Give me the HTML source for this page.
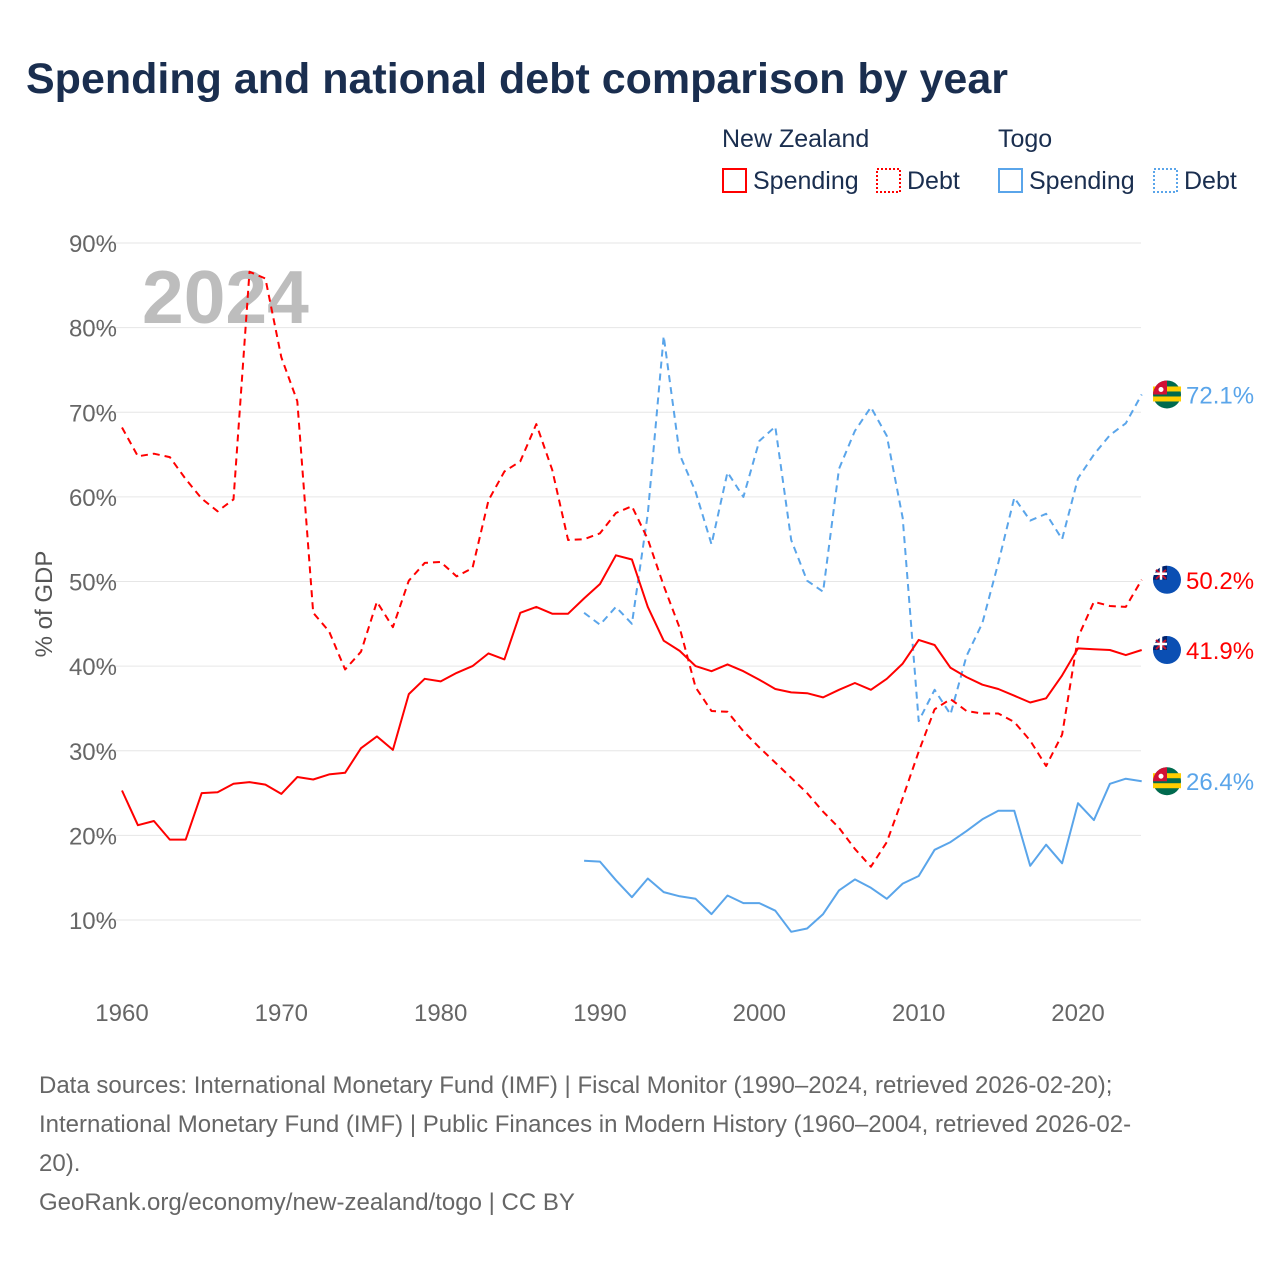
<!DOCTYPE html>
<html><head><meta charset="utf-8"><style>
body{margin:0;background:#fff;font-family:"Liberation Sans",sans-serif}
svg text{font-family:"Liberation Sans",sans-serif}
</style></head><body>
<svg id="chart" width="1280" height="1280" viewBox="0 0 1280 1280">
<text x="26" y="93" font-size="43" font-weight="bold" fill="#1a2e4f">Spending and national debt comparison by year</text>
<g font-size="25" fill="#1a2e4f">
<text x="722" y="147" fill="#1a2e4f">New Zealand</text>
<text x="998" y="147" fill="#1a2e4f">Togo</text>
<g><rect x="723" y="169" width="23" height="23" fill="none" stroke="#f00" stroke-width="2"/><text x="753" y="189" fill="#1a2e4f">Spending</text></g>
<g><rect x="877" y="169" width="23" height="23" fill="none" stroke="#f00" stroke-width="2" stroke-dasharray="2,2"/><text x="907" y="189" fill="#1a2e4f">Debt</text></g>
<g><rect x="999" y="169" width="23" height="23" fill="none" stroke="#5aa5ea" stroke-width="2"/><text x="1029" y="189" fill="#1a2e4f">Spending</text></g>
<g><rect x="1154" y="169" width="23" height="23" fill="none" stroke="#5aa5ea" stroke-width="2" stroke-dasharray="2,2"/><text x="1184" y="189" fill="#1a2e4f">Debt</text></g>
</g>
<text x="142" y="323" font-size="75" font-weight="bold" fill="#bdbdbd">2024</text>
<text transform="translate(52,604) rotate(-90)" text-anchor="middle" font-size="24" fill="#555">% of GDP</text>
<g id="grid"></g><g id="series"></g><g id="ends"></g>
<g font-size="24" fill="#666">
<text x="39" y="1093" fill="#666">Data sources: International Monetary Fund (IMF) | Fiscal Monitor (1990–2024, retrieved 2026-02-20);</text>
<text x="39" y="1132" fill="#666">International Monetary Fund (IMF) | Public Finances in Modern History (1960–2004, retrieved 2026-02-</text>
<text x="39" y="1171" fill="#666">20).</text>
<text x="39" y="1210" fill="#666">GeoRank.org/economy/new-zealand/togo | CC BY</text>
</g>
</svg>
<script>
const yTicks=[10,20,30,40,50,60,70,80,90];
const xTicks=[1960,1970,1980,1990,2000,2010,2020];
const nzYearStart=1960;
const nzSpending=[25.3,21.2,21.7,19.5,19.5,25.0,25.1,26.1,26.3,26.0,24.9,26.9,26.6,27.2,27.4,30.3,31.7,30.1,36.7,38.5,38.2,39.2,40.0,41.5,40.8,46.3,47.0,46.2,46.2,48.0,49.7,53.1,52.6,47.0,43.0,41.8,40.0,39.4,40.2,39.4,38.4,37.3,36.9,36.8,36.3,37.2,38.0,37.2,38.5,40.3,43.1,42.5,39.8,38.7,37.8,37.3,36.5,35.7,36.2,38.9,42.1,42.0,41.9,41.3,41.9];
const nzDebt=[68.2,64.8,65.1,64.7,62.1,59.8,58.3,59.7,86.6,85.8,76.5,71.3,46.3,44.1,39.6,41.7,47.6,44.6,50.1,52.2,52.3,50.6,51.6,59.6,63.0,64.2,68.6,63.2,54.9,55.0,55.7,58.1,58.9,55.0,49.5,44.5,37.5,34.7,34.6,32.3,30.4,28.6,26.8,25.0,22.8,20.9,18.4,16.3,19.2,24.4,29.9,34.9,36.1,34.7,34.4,34.4,33.4,31.2,28.2,31.9,43.4,47.6,47.1,47.0,50.2];
const togoYearStart=1989;
const togoSpending=[17.0,16.9,14.7,12.7,14.9,13.3,12.8,12.5,10.7,12.9,12.0,12.0,11.1,8.6,9.0,10.7,13.5,14.8,13.8,12.5,14.3,15.2,18.3,19.2,20.5,21.9,22.9,22.9,16.4,18.9,16.7,23.8,21.8,26.1,26.7,26.4];
const togoDebt=[46.3,44.9,47.0,45.0,58.0,79.0,65.0,60.6,54.4,62.9,60.0,66.6,68.3,54.9,50.1,48.8,63.3,67.8,70.6,67.2,57.5,33.5,37.2,34.3,41.2,45.1,52.2,59.9,57.2,58.0,55.0,62.2,65.0,67.3,68.7,72.1];

const NS='http://www.w3.org/2000/svg';
const X=y=>122+(y-1960)*(1078-122)/60;
const Y=v=>920-(v-10)*(920-243)/80;
function mk(t,a,p){const e=document.createElementNS(NS,t);for(const k in a)e.setAttribute(k,a[k]);p.appendChild(e);return e;}
const grid=document.getElementById('grid');
yTicks.forEach(v=>{
 const l=mk('line',{x1:92,x2:1141,y1:Y(v),y2:Y(v),stroke:'#e6e6e6','stroke-width':1},grid);
 
 
 const t=mk('text',{x:117,y:Y(v)+9,'text-anchor':'end','font-size':24,fill:'#666'},grid);t.textContent=v+'%';
 
 
});
xTicks.forEach(y=>{
 const t=mk('text',{x:X(y),y:1021,'text-anchor':'middle','font-size':24,fill:'#666'},grid);t.textContent=y;
 
 
});
const ser=document.getElementById('series');
function line(arr,start,color,dash,name){
 const d=arr.map((v,i)=>(i?'L':'M')+X(start+i).toFixed(1)+','+Y(v).toFixed(1)).join('');
 const p=mk('path',{d:d,fill:'none',stroke:color,'stroke-width':2,'stroke-dasharray':dash||'none','stroke-linejoin':'round'},ser);
 
 
}
line(togoDebt,togoYearStart,'#5aa5ea','7,5','line-togo-debt');
line(togoSpending,togoYearStart,'#5aa5ea','','line-togo-spending');
line(nzDebt,nzYearStart,'#f00','7,5','line-nz-debt');
line(nzSpending,nzYearStart,'#f00','','line-nz-spending');
const ends=document.getElementById('ends');
function endLabel(v,color,flag,name){
 const g=mk('g',{},ends);
 
 
 const cx=1167,cy=Y(v);
 if(flag==='tg'){
  mk('circle',{cx:cx,cy:cy,r:14,fill:'#006a4e'},g);
  mk('rect',{x:cx-14,y:cy-8,width:28,height:5,fill:'#ffce00'},g);
  mk('rect',{x:cx-14,y:cy+2,width:28,height:5,fill:'#ffce00'},g);
  mk('path',{d:`M${cx-14},${cy} A14,14 0 0 1 ${cx},${cy-14} L${cx},${cy} Z`,fill:'#d21034'},g);
  mk('circle',{cx:cx-6,cy:cy-5,r:2.5,fill:'#fff'},g);
 } else {
  mk('circle',{cx:cx,cy:cy,r:14,fill:'#0b4fb3'},g);
  mk('path',{d:`M${cx-14},${cy} A14,14 0 0 1 ${cx},${cy-14} L${cx},${cy} Z`,fill:'#012169'},g);
  mk('path',{d:`M${cx-11},${cy-10} L${cx-1},${cy-1} M${cx-1},${cy-10} L${cx-11},${cy-1}`,stroke:'#c8102e','stroke-width':2},g);
  mk('path',{d:`M${cx-6},${cy-13} V${cy} M${cx-13},${cy-6} H${cx}`,stroke:'#fff','stroke-width':2.5},g);
 }
 const t=mk('text',{x:1186,y:cy+9,'font-size':24,fill:color},g);t.textContent=v.toFixed(1)+'%';
}
endLabel(togoDebt[togoDebt.length-1],'#5aa5ea','tg','end-label-togo-debt');
endLabel(nzDebt[nzDebt.length-1],'#f00','nz','end-label-nz-debt');
endLabel(nzSpending[nzSpending.length-1],'#f00','nz','end-label-nz-spending');
endLabel(togoSpending[togoSpending.length-1],'#5aa5ea','tg','end-label-togo-spending');
</script>
</body></html>
